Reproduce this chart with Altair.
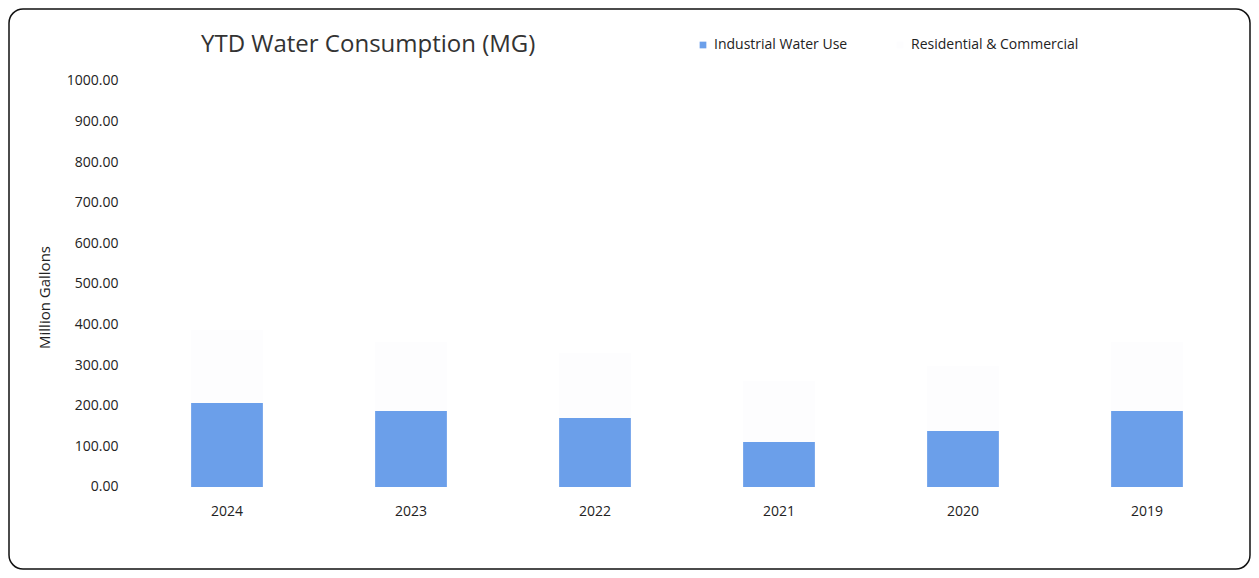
import altair as alt
import pandas as pd

years = ["2024", "2023", "2022", "2021", "2020", "2019"]
industrial = [207, 187, 170, 111, 138, 187]
residential = [180, 170, 160, 150, 160, 170]
series = ["Industrial Water Use", "Residential & Commercial"]
y_ticks = [0, 100, 200, 300, 400, 500, 600, 700, 800, 900, 1000]

rows = []
for y, a, b in zip(years, industrial, residential):
    rows.append({"Year": y, "Series": series[0], "Value": a, "ord": 0})
    rows.append({"Year": y, "Series": series[1], "Value": b, "ord": 1})
df = pd.DataFrame(rows)

FONT = "Open Sans"

chart = alt.Chart(df).mark_bar().encode(
    x=alt.X("Year:N", sort=years,
            scale=alt.Scale(range=[126, 1230], paddingInner=0.61, paddingOuter=0.305),
            axis=alt.Axis(title=None, labelAngle=0, ticks=False, tickSize=0, domain=False,
                          labelPadding=0, offset=-65, labelFontSize=14, labelColor="#222",
                          labelFont=FONT, grid=False)),
    y=alt.Y("Value:Q", stack="zero",
            scale=alt.Scale(domain=[-202, 1177.3], nice=False, zero=False),
            axis=alt.Axis(title="Million Gallons", values=y_ticks, format=".2f", grid=False,
                          ticks=False, tickSize=0, domain=False, labelPadding=0, offset=-109,
                          labelFontSize=14, labelColor="#222", labelFont=FONT,
                          titleFont=FONT, titleFontSize=15, titleFontWeight="normal",
                          titleColor="#222", titleX=-74, titleY=288, titleAngle=270,
                          titleAlign="center", titleBaseline="middle")),
    color=alt.Color("Series:N", sort=series,
                    scale=alt.Scale(domain=series, range=["#6B9FEA", "#FDFDFE"]),
                    legend=alt.Legend(title=None, orient="none", legendX=687, legendY=29,
                                      direction="horizontal", symbolType="square",
                                      symbolSize=45, labelFontSize=14, labelFont=FONT,
                                      labelColor="#222", labelLimit=0, columnPadding=45)),
    order=alt.Order("ord:Q"),
).properties(
    width=1241, height=560,
    autosize=alt.AutoSizeParams(type="none"),
    padding=1,
    title=alt.TitleParams("YTD Water Consumption (MG)", anchor="start", frame="group",
                          dx=192, dy=60, offset=0, fontSize=24, fontWeight="normal",
                          font=FONT, color="#333", baseline="middle"),
).configure_view(stroke="#111", strokeWidth=1.5, cornerRadius=14)

chart.save("out.html", embed_options={"renderer": "svg", "actions": False})
